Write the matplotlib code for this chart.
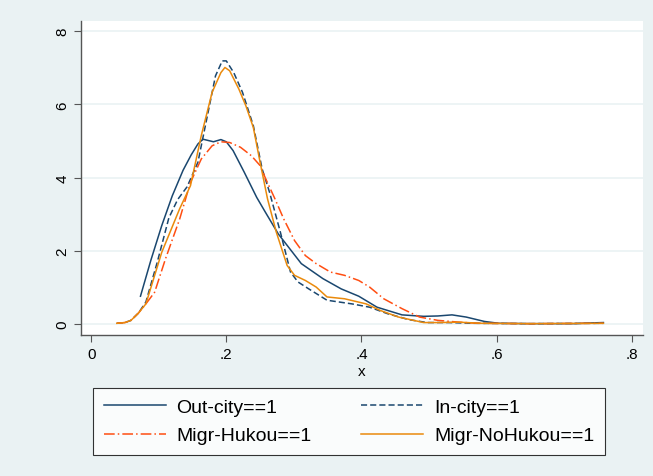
import matplotlib.pyplot as plt

plt.rcParams['font.family'] = ['Liberation Sans', 'DejaVu Sans']

# density curves
x_out = [0.073, 0.0885, 0.1045, 0.12, 0.136, 0.148, 0.158, 0.1655, 0.181, 0.192, 0.2, 0.21, 0.2265, 0.245,
         0.258, 0.277, 0.29, 0.311, 0.343, 0.37, 0.396, 0.423, 0.46, 0.492, 0.513, 0.534, 0.555,
         0.582, 0.603, 0.65, 0.715, 0.74, 0.758]
y_out = [0.76, 1.75, 2.69, 3.5, 4.2, 4.62, 4.92, 5.05, 4.98, 5.04, 4.98, 4.74, 4.15, 3.46,
         3.05, 2.46, 2.15, 1.65, 1.24, 0.96, 0.76, 0.46, 0.25, 0.21, 0.22, 0.25, 0.19,
         0.07, 0.02, 0.01, 0.01, 0.03, 0.04]

x_in = [0.038, 0.05, 0.059, 0.07, 0.081, 0.098, 0.115, 0.128, 0.142, 0.158, 0.173, 0.184, 0.194, 0.2,
        0.211, 0.224, 0.24, 0.253, 0.264, 0.28, 0.295, 0.306, 0.322, 0.349, 0.386, 0.412, 0.439,
        0.47, 0.497, 0.529, 0.566, 0.65, 0.758]
y_in = [0.02, 0.04, 0.1, 0.3, 0.6, 1.7, 2.9, 3.4, 3.75, 4.42, 5.78, 6.78, 7.19, 7.19,
        6.87, 6.33, 5.42, 4.24, 3.6, 2.51, 1.42, 1.15, 0.96, 0.65, 0.55, 0.46, 0.28,
        0.12, 0.04, 0.04, 0.02, 0.01, 0.02]

x_hk = [0.038, 0.05, 0.059, 0.07, 0.081, 0.094, 0.11, 0.131, 0.147, 0.163, 0.179, 0.192, 0.205,
        0.221, 0.237, 0.25, 0.258, 0.272, 0.285, 0.301, 0.317, 0.333, 0.354, 0.375, 0.396, 0.412,
        0.433, 0.46, 0.486, 0.513, 0.545, 0.571, 0.65, 0.758]
y_hk = [0.02, 0.04, 0.1, 0.3, 0.55, 0.87, 1.78, 2.87, 3.87, 4.51, 4.87, 4.98, 4.96,
        4.83, 4.6, 4.33, 3.98, 3.42, 2.87, 2.28, 1.87, 1.65, 1.42, 1.33, 1.19, 1.01,
        0.69, 0.42, 0.19, 0.1, 0.05, 0.02, 0.01, 0.02]

x_nh = [0.038, 0.05, 0.059, 0.07, 0.081, 0.1045, 0.131, 0.147, 0.163, 0.179, 0.192, 0.198, 0.205,
        0.2186, 0.229, 0.24, 0.25, 0.261, 0.274, 0.29, 0.301, 0.317, 0.333, 0.349, 0.375, 0.407,
        0.428, 0.455, 0.492, 0.513, 0.545, 0.577, 0.65, 0.758]
y_nh = [0.02, 0.04, 0.1, 0.3, 0.55, 1.96, 3.15, 3.78, 5.15, 6.33, 6.87, 7.01, 6.92,
        6.42, 5.96, 5.37, 4.42, 3.42, 2.51, 1.6, 1.33, 1.19, 1.01, 0.74, 0.69, 0.55,
        0.37, 0.19, 0.04, 0.04, 0.05, 0.02, 0.01, 0.02]

labels = ['Out-city==1', 'In-city==1', 'Migr-Hukou==1', 'Migr-NoHukou==1']
xticks = [0, 0.2, 0.4, 0.6, 0.8]
xticklabels = ['0', '.2', '.4', '.6', '.8']
yticks = [0, 2, 4, 6, 8]

bg = '#eaf2f3'
navy = '#1a476f'
red = '#ff4e12'
orange = '#ea8a0c'

fig = plt.figure(figsize=(6.53, 4.77), dpi=100, facecolor=bg)
ax = fig.add_axes([81 / 653, 1 - 336 / 477, (643 - 81) / 653, (336 - 22) / 477])
ax.set_facecolor('white')

l1, = ax.plot(x_out, y_out, color=navy, lw=1.1, label=labels[0])
l2, = ax.plot(x_in, y_in, color=navy, lw=1.1, dashes=(4, 2), label=labels[1])
l3, = ax.plot(x_hk, y_hk, color=red, lw=1.1, dashes=(7, 2, 1, 2), label=labels[2])
l4, = ax.plot(x_nh, y_nh, color=orange, lw=1.1, label=labels[3])

ax.set_xlim(-0.015, 0.8166)
ax.set_ylim(-0.3, 8.28)
ax.set_xticks(xticks)
ax.set_xticklabels(xticklabels)
ax.set_yticks(yticks)
ax.set_yticklabels([str(v) for v in yticks], rotation=90, va='center')
ax.tick_params(labelsize=11, length=5, color='#555555', width=0.8)
ax.grid(axis='y', color=bg, lw=1.2)
ax.set_axisbelow(True)
for s in ['top', 'right']:
    ax.spines[s].set_visible(False)
for s in ['left', 'bottom']:
    ax.spines[s].set_color('#555555')
    ax.spines[s].set_linewidth(1.0)
ax.set_xlabel('x', fontsize=11, labelpad=2)

# matplotlib fills legend column by column, Stata fills row by row
leg = fig.legend(handles=[l1, l3, l2, l4], loc='lower left', ncol=2,
                 bbox_to_anchor=(93 / 653, 1 - 456 / 477, (605 - 93) / 653, (456 - 389) / 477),
                 mode='expand', fontsize=14, frameon=True, fancybox=False, edgecolor='black',
                 handlelength=3.2, handletextpad=0.55, columnspacing=1.5, borderpad=0.55,
                 labelspacing=0.55, borderaxespad=0)
leg.get_frame().set_linewidth(0.8)

fig.savefig('out.png', dpi=100, facecolor=bg)
